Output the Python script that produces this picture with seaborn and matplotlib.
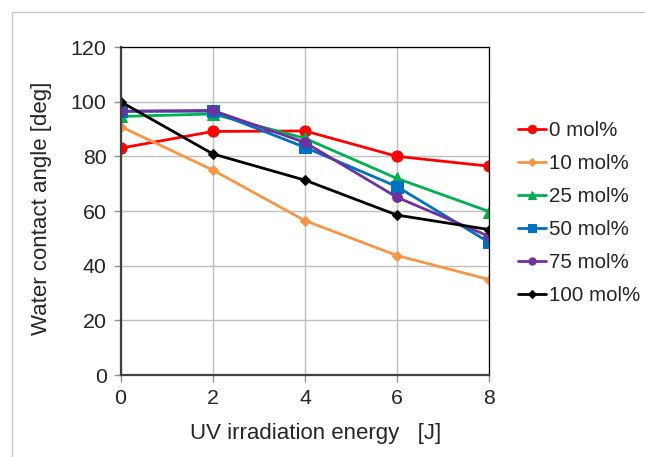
import numpy as np
import pandas as pd
import matplotlib
matplotlib.use("Agg")
import matplotlib.pyplot as plt
import seaborn as sns
from matplotlib.patches import Rectangle

energy = [0, 2, 4, 6, 8]
series_names = ["0 mol%", "10 mol%", "25 mol%", "50 mol%", "75 mol%", "100 mol%"]
mol0 = [83.0, 89.1, 89.3, 80.0, 76.4]
mol10 = [90.9, 75.0, 56.5, 43.7, 34.9]
mol25 = [94.6, 95.5, 86.6, 71.9, 59.8]
mol50 = [96.5, 96.5, 83.3, 68.9, 48.5]
mol75 = [96.5, 96.8, 85.1, 65.0, 50.7]
mol100 = [100.0, 80.9, 71.3, 58.5, 53.2]
xticks = [0, 2, 4, 6, 8]
yticks = [0, 20, 40, 60, 80, 100, 120]

colors = ["#FF0000", "#F79646", "#00B050", "#0070C0", "#7030A0", "#000000"]
markers = ["o", "D", "^", "s", "o", "D"]
msizes = [8, 5, 8, 8, 7, 5]

all_vals = [mol0, mol10, mol25, mol50, mol75, mol100]
df = pd.DataFrame({
    "energy": np.tile(energy, len(series_names)),
    "angle": np.concatenate(all_vals),
    "series": np.repeat(series_names, len(energy)),
})

sns.set_style("white")
plt.rcParams["font.family"] = ["Liberation Sans", "DejaVu Sans"]

fig = plt.figure(figsize=(6.45, 4.57), dpi=100)
ax = fig.add_axes([0.187, 0.1794, 0.5716, 0.7177])

# outer light frame
fig.patches.append(Rectangle((12 / 645, -0.1), 1.2, (457 - 12) / 457 + 0.1,
                             transform=fig.transFigure, fill=False,
                             edgecolor="#C8C8C8", linewidth=1.0, zorder=0))

for name, col, mk, ms in zip(series_names, colors, markers, msizes):
    sub = df[df["series"] == name]
    sns.lineplot(data=sub, x="energy", y="angle", ax=ax, color=col,
                 marker=mk, markersize=ms, markeredgecolor=col,
                 linewidth=2.0, label=name, zorder=3)

ax.set_xlim(0, 8)
ax.set_ylim(0, 120)
ax.set_xticks(xticks)
ax.set_yticks(yticks)
ax.grid(True, color="#BEBEBE", linewidth=1.0)
ax.set_axisbelow(True)
for side in ["top", "right"]:
    ax.spines[side].set_color("#000000")
    ax.spines[side].set_linewidth(0.9)
for side in ["left", "bottom"]:
    ax.spines[side].set_color("#404040")
    ax.spines[side].set_linewidth(1.6)
ax.tick_params(axis="both", which="major", labelsize=15.4, length=5,
               width=1.0, color="#909090", direction="out", pad=5,
               left=True, bottom=True)
ax.set_xlabel("UV irradiation energy   [J]", fontsize=16)
ax.set_ylabel("Water contact angle [deg]", fontsize=16)
ax.xaxis.set_label_coords(0.53, -0.145)
ax.yaxis.set_label_coords(-0.185, 0.508)

handles, labels = ax.get_legend_handles_labels()
ax.legend(handles, labels, loc="upper left", bbox_to_anchor=(1.056, 0.80),
          frameon=False, fontsize=14.8, handlelength=1.35, handletextpad=0.15,
          labelspacing=0.68, borderaxespad=0, markerscale=0.75)

for sp in ax.spines.values():
    sp.set_zorder(5)

fig.savefig("out.png", dpi=100, facecolor="white")
